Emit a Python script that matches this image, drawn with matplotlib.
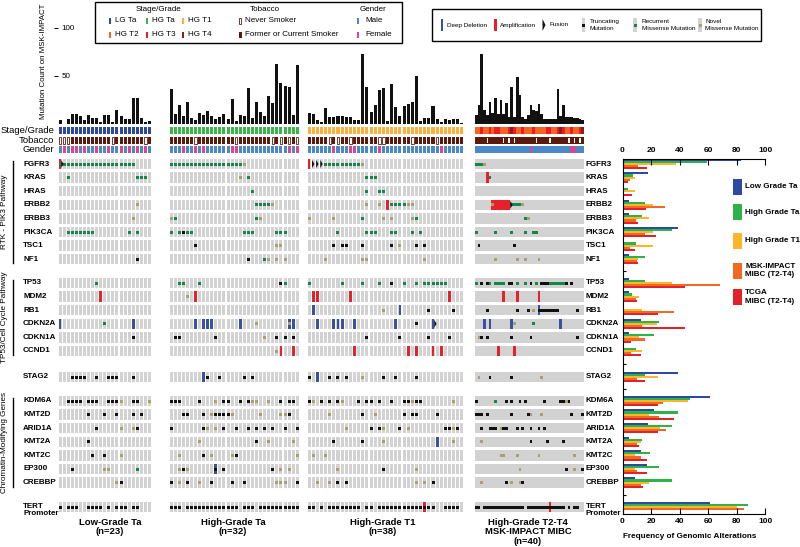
import numpy as np
import matplotlib
matplotlib.use('Agg')
import matplotlib.pyplot as plt
from matplotlib.patches import Rectangle, Polygon

plt.rcParams['font.family'] = ['Liberation Sans', 'DejaVu Sans']

W, H = 800, 547

# ---------------- data ----------------
genes = ['FGFR3', 'KRAS', 'HRAS', 'ERBB2', 'ERBB3', 'PIK3CA', 'TSC1', 'NF1',
         'TP53', 'MDM2', 'RB1', 'CDKN2A', 'CDKN1A', 'CCND1',
         'STAG2',
         'KDM6A', 'KMT2D', 'ARID1A', 'KMT2A', 'KMT2C', 'EP300', 'CREBBP',
         'TERT']
gene_labels = genes[:-1] + ['TERT\nPromoter']
block_sizes = [8, 6, 1, 7, 1]
pathways = ['RTK - PIK3 Pathway', 'TP53/Cell Cycle Pathway', 'Chromatin-Modifying Genes']
pathway_blocks = [0, 1, 3]

group_titles = ['Low-Grade Ta\n(n=23)', 'High-Grade Ta\n(n=32)', 'High-Grade T1\n(n=38)',
                'High-Grade T2-T4\nMSK-IMPACT MIBC\n(n=40)']

# mutation count on MSK-IMPACT per sample
lgta_mut = [4, 0, 6, 11, 11, 9, 4, 10, 7, 7, 2, 10, 10, 2, 15, 9, 6, 5, 27, 27, 7, 2, 3]
hgta_mut = [37, 11, 20, 9, 23, 7, 4, 12, 10, 14, 9, 6, 8, 11, 6, 26, 3, 10, 9, 38, 7, 23,
            13, 9, 29, 22, 62, 43, 40, 39, 10, 61]
hgt1_mut = [12, 11, 4, 2, 17, 8, 8, 9, 9, 8, 8, 4, 4, 73, 39, 13, 20, 36, 38, 3, 42, 18,
            9, 19, 21, 23, 50, 3, 7, 7, 19, 5, 2, 6, 4, 6, 5, 1]
mibc_mut = [10, 20, 73, 15, 10, 23, 12, 27, 11, 25, 11, 22, 8, 39, 8, 49, 30, 8, 6, 10,
            20, 15, 14, 21, 11, 6, 5, 6, 5, 6, 37, 9, 20, 8, 8, 8, 7, 7, 6, 4]

# clinical tracks (S = former/current smoker, N = never; M / F = gender)
lgta_stage = ['LG Ta'] * 23
hgta_stage = ['HG Ta'] * 32
hgt1_stage = ['HG T1'] * 38
mibc_stage_codes = '22322 32332 22343 22322 23222 23322 34322 32234'
lgta_tobacco = 'NNNSS SSSSS SSSNS SSSSS SNS'
hgta_tobacco = 'SSSSS SNSSS SSSSS SNSSS SSSSS NSNSN SN'
hgt1_tobacco = 'SSSSS NSNSS NSSSS SSNNS SSSSS NSSSS SNSSS SSS'
mibc_tobacco = 'SSSSN SSSSS NSNSN SSSSS SSNSS SSNSS SSSSN SNSNS'
lgta_gender = 'MFMFF MFMMF MMFMM FMFMF MFM'
hgta_gender = 'MMMFM MFMFM MMMMM FFMMM MMMMM MMMMF MF'
hgt1_gender = 'MMMMM MFMMM FFMMM MMFMM MMMMM MMMMM MMFMM MMM'
mibc_gender = 'MMMMM MMMMM MMMMM MMMMM FMMMM MMMMM MMMMM FFMMM'

# alterations: . none, g recurrent missense, o novel missense, t truncating,
# A amplification, D deep deletion, F fusion; combined codes in COMBOS
COMBOS = {'X': 'AgF', 'B': 'Dt', 'E': 'Do', 'G': 'DF', 'R': 'At', 'P': 'Ao', 'Q': 'AF'}

lgta_tracks = {
    'FGFR3':  'Xgggg ggggg ggggg gggg. ...',
    'KRAS':   '..g.. ..... ..... ....g gg.',
    'HRAS':   '..... ..... ..... ..... ...',
    'ERBB2':  '..... ..... ..... ....o ...',
    'ERBB3':  '..... ..... ..... ...o. ...',
    'PIK3CA': '..ggg gggg. ..... ..g.g ...',
    'TSC1':   '..... ..... ..... ..... ...',
    'NF1':    '..... ..... ..... ....t ...',
    'TP53':   '..... ....g ..... ..... ...',
    'MDM2':   '..... ..... A.... ..... ...',
    'RB1':    '..... ..... ..... ..... ...',
    'CDKN2A': 'D.... ..... .g... ...D. ...',
    'CDKN1A': '..... ..... ..... ...t. ...',
    'CCND1':  '..... ..... ..... ..... ...',
    'STAG2':  '...tt tt..t ..ttt ...t. ...',
    'KDM6A':  '..ttt t.ttt ..ttt o..tt ..o',
    'KMT2D':  '..... ..t.. .t..t ...t. t..',
    'ARID1A': '..... ....t ..... o..ot ...',
    'KMT2A':  '..... ..t.. ..... ..... ...',
    'KMT2C':  '..... ...t. .t... o.... ...',
    'EP300':  '...t. ..... .oo.. ....g ...',
    'CREBBP': '..... ..... ....o t.... ...',
    'TERT':   't.ttt ..ttt t.t.t tt.tt ...',
}

hgta_tracks = {
    'FGFR3':  'ggggg ggggg ggggg gggo. ..... ..... ..',
    'KRAS':   '..... ..... ..... ..o.g ..... ..... ..',
    'HRAS':   '..... ..... ..... ..... g.... ..... ..',
    'ERBB2':  '..... ..... ..... ..... .gggg o.... ..',
    'ERBB3':  'og... ..... ..... ..... .go.. ..... ..',
    'PIK3CA': 'g.gtg g.... ..... ...gg g.... .ggg. ..',
    'TSC1':   '..... .t... ..... ..... ..... .oo.. ..',
    'NF1':    '..... ..... ..... ....t ...go .o.o. ..',
    'TP53':   '..gg. ..g.. ..... ..... ..... ..tg. ..',
    'MDM2':   '....o .A... ..... ..... ..... ..... ..',
    'RB1':    '..... ..... ..... ..... ..... ..... ..',
    'CDKN2A': '..... .D.DD D.... ..D.. .o... ....E D.',
    'CDKN1A': '.tt.. ..... .t... ..... ...o. .t.t. t.',
    'CCND1':  '..... ..... ..... ..... ..... .oA.. A.',
    'STAG2':  '..... ...Dt ..t.. ...t. t.... ..... ..',
    'KDM6A':  'ttt.. ..t.. .o.tt ..t.t oo..o ..t.t t.',
    'KMT2D':  '...tt ...t. otttt o.... ..o.. ..oot ..',
    'ARID1A': 't.... ...to .o.t. .t..t .t.t. t..t. .t',
    'KMT2A':  '..... ..o.. ..... ..... .t..o ..... o.',
    'KMT2C':  '..o.. ...t. o.... ot... ..... ..... .o',
    'EP300':  '..oto ..... .B.t. ..... ..... t.o.o ..',
    'CREBBP': 't.o.t ..o.. t.... t..t. ..... .ooo. .t',
    'TERT':   'ttt.t ttttt ttttt tt.tt t.ttt ttttt tt',
}

hgt1_tracks = {
    'FGFR3':  'AFFFg ggggg gggo. ..... ..... ..... ..... ...',
    'KRAS':   '..... ..... ....g gg... ..... ..... ..... ...',
    'HRAS':   '..... ..... ....g ..gg. ..... ..... ..... ...',
    'ERBB2':  '..... ..... ....o ..o.A ggggo o.... ..... ...',
    'ERBB3':  'o.... .o... ...g. ...o. o.... og... ..... ...',
    'PIK3CA': '..... ..g.. ....g gg... gg... g.g.. ..... ...',
    'TSC1':   '..... .t.tt ...t. ..... t.o.. .t.t. ..... ...',
    'NF1':    '....o ..... ...oo ..... ..... ...o. ..... ...',
    'TP53':   'g.... ...g. ...g. ..g.. t..g. .g.gg gggg. ...',
    'MDM2':   '.AA.. ..... A.... ..... ..... ..... ....A ...',
    'RB1':    '.D... ..... ..... ...o. ..D.. ....t ..... t..',
    'CDKN2A': '..D.. .DDD. .D... ..... .D... .t... G.... ...',
    'CDKN1A': '..... ..... ....t ..... ..t.. ....t ....t ...',
    'CCND1':  '..... ..... .A... ..... ....A .A... A.A.. ...',
    'STAG2':  't.D.. t.t.t ...o. ...t. .t... .t... ..... ...',
    'KDM6A':  'to.t. t.to. ..t.t t.t.. t..tt ott.. ..... o..',
    'KMT2D':  '..... o.... ...t. .o... ...t. tt... .t... ...',
    'ARID1A': '..... ....o ..... t.to. ..t.o ..... ...tt ot.',
    'KMT2A':  '..... .t... ...t. ...o. ..... ..... .D... o..',
    'KMT2C':  '.o..o ..... ..... ..... ..... ..... ..... ...',
    'EP300':  '..... ..o.. ..... ...t. ..... .o... ..... ...',
    'CREBBP': '..o.. o.t.t ..... ..... ..... .o.o. t.... ...',
    'TERT':   'tt.t. ttttt ttt.t t.ttt ttttt tttRt t..tt tt.',
}

mibc_tracks = {
    'FGFR3':  'gggo. ..... ..... ..... ..... ..... ..... .....',
    'KRAS':   '....A g.... ..... ..... ..... ..... ..... .....',
    'HRAS':   '..... ..... ..... ..... ..... ..... ..... .....',
    'ERBB2':  '..... .PAAA AAQgg ggo.. ..... ..... ..... .....',
    'ERBB3':  '..... ..... ..... ...go ..... ..... ..... .....',
    'PIK3CA': 'g.... ..g.. ...g. ...g. .gg.. ..... ..... .....',
    'TSC1':   '.t... ..... ....t ..... ..... ..... ..... .....',
    'NF1':    '..... ..o.. ..... o..o. ...o. ..... ..... .....',
    'TP53':   'g.t.t g.ggg g.tt. g..g. t.g.t ttggg gggt. t....',
    'MDM2':   '..... ..... A.... A.... ...A. ..... ..... .....',
    'RB1':    '....t ..... ..... t...t .o.Bt ttttt t.... ..t..',
    'CDKN2A': '...D. D.... ...Do ..... .g... ..... .D... .....',
    'CDKN1A': '.ot.t ..... ...t. ..... t.... ..... ..... ..t..',
    'CCND1':  '..... ...A. ....A ..... ..... ..... ..... .....',
    'STAG2':  '.o... t.... ...t. ..... ....o ..... ..... .....',
    'KDM6A':  't.... ..g.. .t.t. .t.t. ..... t.... .ttot .....',
    'KMT2D':  'ttt.t ..... ...t. ....t o...o ..... ..... t...t',
    'ARID1A': '..t.. ttt.o tt... t.t.. t..t. t.... ..... .....',
    'KMT2A':  '..o.. ..... ..... ..... t.... .t... ..t.. .....',
    'KMT2C':  '..... ....o o.... o.... ...o. ..... ..... .o...',
    'EP300':  '..... ..... ..... .o... ..... ..... ...t. .o..t',
    'CREBBP': '..o.. ..... .t.o. .ot.. ..... ..... ..... .....',
    'TERT':   'tt.tt ttttt ttttt ttt.t ttttt ttRtt ttt.t .tt..',
}

# frequency of genomic alterations (%) per gene
freq_labels = ['Low Grade Ta', 'High Grade Ta', 'High Grade T1',
               'MSK-IMPACT\nMIBC (T2-T4)', 'TCGA\nMIBC (T2-T4)']
low_ta_freq = [83, 17.5, 0, 4.5, 4.5, 39, 0, 4.3, 4.3, 4.3, 0, 13, 4.5, 0, 39,
               61, 22, 17.5, 4.5, 13, 17, 9, 61]
high_ta_freq = [59, 7, 3.5, 16, 13.5, 34.5, 9.3, 16, 16, 6.3, 0, 25.5, 22, 9.3, 16,
                47, 38.5, 34.3, 13.5, 19, 25.5, 34.3, 88]
high_t1_freq = [37.5, 8.6, 8.6, 21.4, 18.4, 21.4, 21.4, 10.7, 34.5, 11.6, 13.5, 24.2,
                11.6, 13.5, 24.5, 45.7, 18.4, 26.3, 12.6, 8.6, 8.6, 18.4, 80]
msk_mibc_freq = [10.5, 5.5, 0, 30, 9.5, 15.4, 5, 10, 68, 9.3, 35.7, 13.5, 15.4, 5.6,
                 10.3, 28, 25.6, 30.3, 10.3, 12.6, 10.3, 12.6, 85]
tcga_mibc_freq = [17, 3.7, 6.5, 16.5, 10.7, 23.5, 8.6, 10.5, 43.6, 9.8, 24.7, 43.6,
                  5.6, 12.6, 15.4, 24.5, 35.7, 24.5, 11.4, 17, 17, 14.5, 0]

# ---------------- style ----------------
GRAY = '#d2d2d2'
RED = '#e8202a'
BLUE = '#3a51a3'
GREEN = '#13864a'
OLIVE = '#a99f72'
BLACK = '#111111'
BROWN = '#5c1a0b'
MALE = '#4a88c9'
FEMALE = '#d84592'
STAGE_COLORS = {'LG Ta': '#2e4b9b', 'HG Ta': '#39b54a', 'HG T1': '#fbb03b',
                'HG T2': '#f26522', 'HG T3': '#ed1c24', 'HG T4': '#8b1e1e'}
MUT_COLORS = {'g': GREEN, 'o': OLIVE, 't': BLACK}
FREQ_COLORS = ['#2d4aa0', '#2db34a', '#fdb62a', '#f26a22', '#e1222a']

BLOCK_TOP = [164, 283, 377, 401, 507]
ROW_STEP = 13.6
CELL_H = 10.4
HDR_Y = [130.7, 140.5, 149.5]
HDR_H = 7.0
TRACK_TOP, TRACK_BOT = 125, 520
MUT_TOP, MUT_BOT = 27.7, 124.3

row_y = []
for top, size in zip(BLOCK_TOP, block_sizes):
    row_y += [top + ROW_STEP * k for k in range(size)]
row_y = np.array(row_y)

fig = plt.figure(figsize=(W / 100, H / 100), dpi=100)


def px_axes(x0, y0, x1, y1):
    return fig.add_axes([x0 / W, 1 - y1 / H, (x1 - x0) / W, (y1 - y0) / H])


# overlay for texts / legends, drawn above the data axes
ax_bg = px_axes(0, 0, W, H)
ax_bg.set_xlim(0, W)
ax_bg.set_ylim(H, 0)
ax_bg.axis('off')
ax_bg.set_zorder(10)


def draw_group(x0, x1, tracks, stage, tobacco, gender, muts, dense):
    n = len(stage)
    step = (x1 - x0) / n
    x = np.arange(n)
    w = 1.0 if dense else 0.74

    ax = px_axes(x0, TRACK_TOP, x1, TRACK_BOT)
    ax.set_xlim(-0.5, n - 0.5)
    ax.set_ylim(TRACK_BOT, TRACK_TOP)
    ax.axis('off')

    # clinical rows
    ax.bar(x, HDR_H, bottom=HDR_Y[0] - HDR_H / 2, width=w,
           color=[STAGE_COLORS[s] for s in stage], lw=0)
    tob = tobacco.replace(' ', '')
    never = np.array([c == 'N' for c in tob])
    if dense:
        ax.bar(x, HDR_H, bottom=HDR_Y[1] - HDR_H / 2, width=w, color=BROWN, lw=0)
        ax.bar(x[never], HDR_H - 1.4, bottom=HDR_Y[1] - HDR_H / 2 + 0.7, width=0.55,
               color='white', lw=0)
    else:
        ax.bar(x[~never], HDR_H, bottom=HDR_Y[1] - HDR_H / 2, width=w, color=BROWN, lw=0)
        ax.bar(x[never], HDR_H - 0.8, bottom=HDR_Y[1] - HDR_H / 2 + 0.4, width=w - 0.15,
               color='white', edgecolor=BROWN, lw=0.6)
    gen = gender.replace(' ', '')
    ax.bar(x, HDR_H, bottom=HDR_Y[2] - HDR_H / 2, width=w,
           color=[MALE if c == 'M' else FEMALE for c in gen], lw=0)

    # grey background
    if dense:
        ax.barh(row_y, n, left=-0.5, height=CELL_H, color=GRAY, lw=0)
    else:
        gx, gy = np.meshgrid(x, row_y)
        ax.bar(gx.ravel(), CELL_H, bottom=gy.ravel() - CELL_H / 2, width=w, color=GRAY, lw=0)

    # alterations
    cna_w = 1.0 if dense else 2.8 / step
    mut_w = 1.0 if dense else 3.0 / step
    mut_h = 3.0
    fus_w = 2.4 / step
    cna, mut, fus = [], [], []
    for gi, gene in enumerate(genes):
        track = tracks[gene].replace(' ', '')
        assert len(track) == n, (gene, len(track), n)
        for i, c in enumerate(track):
            if c == '.':
                continue
            parts = COMBOS.get(c, c)
            for p in parts:
                if p in 'AD':
                    cna.append((i, row_y[gi], RED if p == 'A' else BLUE))
                elif p in MUT_COLORS:
                    mut.append((i, row_y[gi], MUT_COLORS[p]))
                elif p == 'F':
                    fus.append((i, row_y[gi], 'A' in parts or 'D' in parts))
    if cna:
        cx, cy, cc = zip(*cna)
        ax.bar(cx, CELL_H, bottom=np.array(cy) - CELL_H / 2, width=cna_w, color=cc, lw=0)
    if mut:
        mx, my, mc = zip(*mut)
        ax.bar(mx, mut_h, bottom=np.array(my) - mut_h / 2, width=mut_w, color=mc, lw=0)
    for fx, fy, shifted in fus:
        base = fx + cna_w / 2 - 0.05 if shifted else fx - fus_w / 2
        ax.add_patch(Polygon([(base, fy - 4), (base + fus_w, fy), (base, fy + 4)],
                             closed=True, color=BLACK, lw=0))

    # mutation count bars
    axm = px_axes(x0, MUT_TOP, x1, MUT_BOT)
    axm.set_xlim(-0.5, n - 0.5)
    axm.set_ylim(0, 100)
    axm.axis('off')
    axm.bar(x, muts, width=w, color=BLACK, lw=0)


mibc_stage = ['HG T' + c for c in mibc_stage_codes.replace(' ', '')]
draw_group(58, 151.5, lgta_tracks, lgta_stage, lgta_tobacco, lgta_gender, lgta_mut, False)
draw_group(169, 299.3, hgta_tracks, hgta_stage, hgta_tobacco, hgta_gender, hgta_mut, False)
draw_group(307, 464, hgt1_tracks, hgt1_stage, hgt1_tobacco, hgt1_gender, hgt1_mut, False)
draw_group(475, 584, mibc_tracks, mibc_stage, mibc_tobacco, mibc_gender, mibc_mut, True)

# mutation count axis
ax_y = px_axes(44, MUT_TOP, 54, MUT_BOT)
ax_y.set_ylim(0, 100)
for s in ax_y.spines.values():
    s.set_visible(False)
ax_y.patch.set_alpha(0)
ax_y.set_xticks([])
ax_y.yaxis.tick_right()
ax_y.set_yticks([50, 100])
ax_y.tick_params(axis='y', direction='out', length=3, width=0.7, pad=2.5, labelsize=5.8)
ax_bg.text(43.5, 119, 'Mutation Count on MSK-IMPACT', rotation=90,
           ha='center', va='bottom', fontsize=5.7)

# clinical row labels
for lab, y in zip(['Stage/Grade', 'Tobacco', 'Gender'], HDR_Y):
    ax_bg.text(54, y, lab, ha='right', va='center', fontsize=6.8)

# gene labels
for lab, y in zip(gene_labels, row_y):
    for gx in (23, 586):
        if '\n' in lab:
            ax_bg.text(gx, y - 4.5, lab, ha='left', va='top', fontsize=5.8,
                       fontweight='bold', linespacing=1.12)
        else:
            ax_bg.text(gx, y, lab, ha='left', va='center', fontsize=5.8, fontweight='bold')

# pathway brackets
starts = np.cumsum([0] + block_sizes[:-1])
for name, b in zip(pathways, pathway_blocks):
    y0 = row_y[starts[b]] - 3
    y1 = row_y[starts[b] + block_sizes[b] - 1] + 4
    ax_bg.plot([13, 13], [y0, y1], color='black', lw=1.0)
    ax_bg.text(4.5, (y0 + y1) / 2, name, rotation=90, ha='center', va='center', fontsize=5.9)

# group titles
for title, cx in zip(group_titles, [110, 233, 383, 528]):
    ax_bg.text(cx, 518, title, ha='center', va='top', fontsize=6.8, fontweight='bold',
               linespacing=1.05)

# frequency chart
axf = px_axes(622.5, 158.5, 765.5, 513.5)
axf.patch.set_visible(False)
axf.set_xlim(0, 100)
axf.set_ylim(513.5, 158.5)
freq_series = [low_ta_freq, high_ta_freq, high_t1_freq, msk_mibc_freq, tcga_mibc_freq]
for k, (vals, col) in enumerate(zip(freq_series, FREQ_COLORS)):
    axf.barh(row_y + (k - 2) * 2.1, vals, height=2.1, color=col, lw=0)
axf.spines['right'].set_visible(False)
for s in ('top', 'bottom', 'left'):
    axf.spines[s].set_linewidth(0.8)
axf.set_xticks([0, 20, 40, 60, 80, 100], ['0', '20', '40', '60', '80', '100'],
              fontweight='bold')
axf.tick_params(axis='x', direction='in', top=True, bottom=True, labeltop=True,
                labelbottom=True, length=4, width=0.8, labelsize=6, pad=3)
gap_mid = [(row_y[starts[b + 1] - 1] + row_y[starts[b + 1]]) / 2 for b in range(len(block_sizes) - 1)]
axf.set_yticks(gap_mid, [''] * len(gap_mid))
axf.tick_params(axis='y', direction='in', length=2.5, width=0.8)
ax_bg.text(690, 536, 'Frequency of Genomic Alterations', ha='center', va='center',
           fontsize=5.9, fontweight='bold')

# frequency legend
for lab, col, cy in zip(freq_labels, FREQ_COLORS, [187, 212, 241, 270.5, 297]):
    ax_bg.add_patch(Rectangle((733.3, cy - 8), 8.4, 16, color=col, lw=0))
    ax_bg.text(745, cy, lab, ha='left', va='center', fontsize=5.8, fontweight='bold',
               linespacing=1.25)

# legend 1: clinical
ax_bg.add_patch(Rectangle((95, 2), 307, 41, fill=False, lw=1.0, ec='black'))
for lab, cx in zip(['Stage/Grade', 'Tobacco', 'Gender'], [159, 265, 373]):
    ax_bg.text(cx, 9.5, lab, ha='center', va='center', fontsize=5.8)
stage_pos = [(110, 21), (147, 21), (183, 21), (110, 35), (147, 35), (183, 35)]
for lab, (mx, my) in zip(STAGE_COLORS, stage_pos):
    ax_bg.add_patch(Rectangle((mx - 1.3, my - 3.3), 2.6, 6.6, color=STAGE_COLORS[lab], lw=0))
    ax_bg.text(mx + 5, my, lab, ha='left', va='center', fontsize=5.8)
ax_bg.add_patch(Rectangle((238.6, 17.8), 2.8, 6.4, fc='white', ec=BROWN, lw=0.6))
ax_bg.text(245, 21, 'Never Smoker', ha='left', va='center', fontsize=5.8)
ax_bg.add_patch(Rectangle((238.5, 31.7), 3, 6.6, color=BROWN, lw=0))
ax_bg.text(245, 35, 'Former or Current Smoker', ha='left', va='center', fontsize=5.8)
for lab, col, my in [('Male', MALE, 21), ('Female', FEMALE, 35)]:
    ax_bg.add_patch(Rectangle((356.7, my - 3.3), 2.6, 6.6, color=col, lw=0))
    ax_bg.text(365, my, lab, ha='left', va='center', fontsize=5.8)

# legend 2: alteration types
small = dict(fontsize=4.6, family=['Liberation Sans Narrow', 'Liberation Sans'],
             ha='left', va='center', linespacing=1.5)
ax_bg.add_patch(Rectangle((432, 9), 329, 32, fill=False, lw=1.0, ec='black'))
ax_bg.add_patch(Rectangle((440.7, 19), 2.6, 12, color=BLUE, lw=0))
ax_bg.text(447, 25, 'Deep Deletion', **small)
ax_bg.add_patch(Rectangle((494.3, 19), 2.6, 12, color=RED, lw=0))
ax_bg.text(500, 25, 'Amplification', **small)
ax_bg.add_patch(Polygon([(542.5, 19), (545.5, 25), (542.5, 31)], closed=True, color=BLACK, lw=0))
ax_bg.text(550, 25, 'Fusion', **small)
for lab, col, mx, tx in [('Truncating\nMutation', BLACK, 583.3, 590),
                         ('Recurrent\nMissense Mutation', GREEN, 635, 642),
                         ('Novel\nMissense Mutation', OLIVE, 700, 705)]:
    ax_bg.add_patch(Rectangle((mx - 1.7, 18), 3.4, 14, color=GRAY, lw=0))
    ax_bg.add_patch(Rectangle((mx - 1.5, 23.5), 3.0, 3.0, color=col, lw=0))
    ax_bg.text(tx, 25, lab, **small)

fig.savefig('out.png', dpi=100, facecolor='white')
